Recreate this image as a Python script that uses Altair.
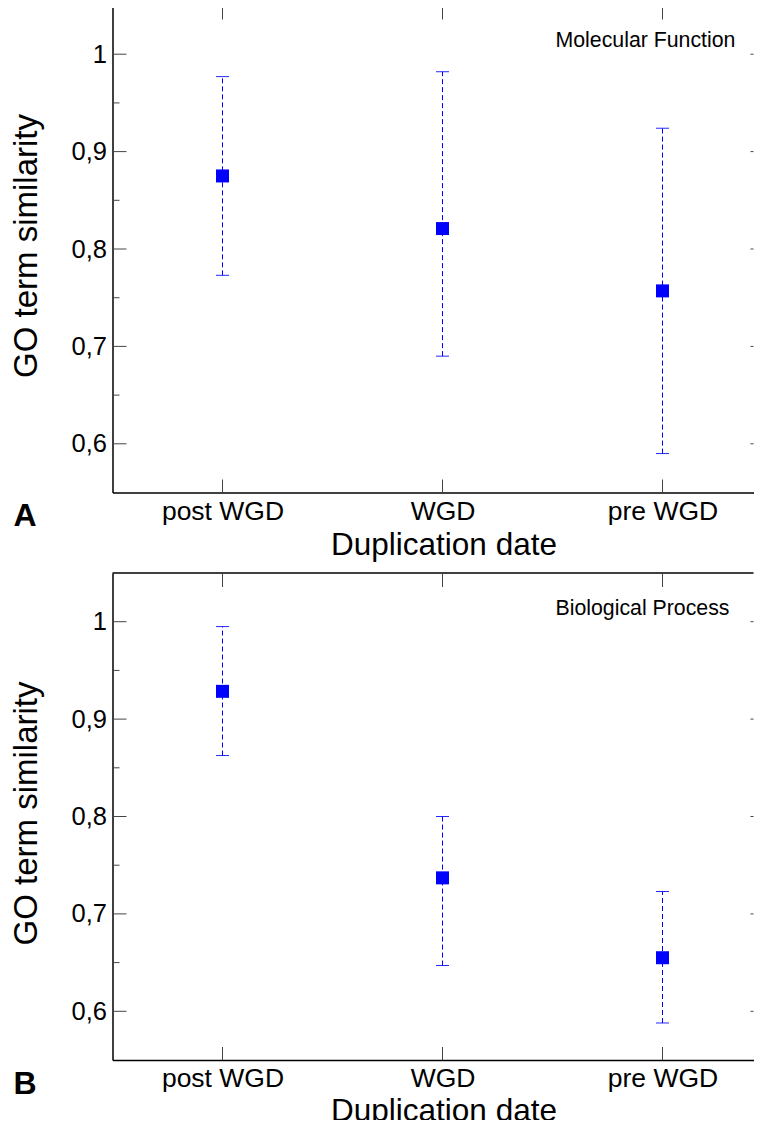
import json
import altair as alt
import pandas as pd

categories = ["post WGD", "WGD", "pre WGD"]

mf_mean = [0.875, 0.821, 0.757]
mf_lo = [0.773, 0.690, 0.590]
mf_hi = [0.977, 0.982, 0.924]

bp_mean = [0.9285, 0.737, 0.655]
bp_lo = [0.8626, 0.647, 0.588]
bp_hi = [0.995, 0.800, 0.723]

major_ticks = [0.6, 0.7, 0.8, 0.9, 1.0]
minor_ticks = [0.65, 0.75, 0.85, 0.95]

W = 641
H = 487
X_MAX = (W - 110) / 220 - 0.0
FONT = "Liberation Sans"
BLUE = "#0000ff"
TICKC = "#444444"

Y_LABEL_EXPR = "datum.value == 1 ? '1' : replace(format(datum.value, '.1f'), '.', ',')"
X_LABEL_EXPR = json.dumps(categories) + "[datum.value]"
X_IDX = list(range(len(categories)))

major_df = pd.DataFrame({"v": major_ticks})
minor_df = pd.DataFrame({"v": minor_ticks})
xtick_df = pd.DataFrame({"idx": X_IDX})


def panel(mean, lo, hi, name, letter, title_y):
    df = pd.DataFrame({"idx": X_IDX, "cat": categories, "mean": mean, "lo": lo, "hi": hi})
    xs = alt.Scale(domain=[-0.5, X_MAX], nice=False, zero=False)
    ys = alt.Scale(domain=[0.55, 1.05], nice=False, zero=False)
    base = alt.Chart(df)

    main_x_axis = alt.Axis(
        title="Duplication date", orient="bottom", values=X_IDX, grid=False,
        labelExpr=X_LABEL_EXPR, labelAngle=0, ticks=False,
        domain=True, domainColor="black", domainWidth=1.5,
        labelFont=FONT, titleFont=FONT,
        labelFontSize=26.5, labelPadding=5.5, labelColor="black",
        titleFontSize=31.5, titleFontWeight="normal", titleColor="black",
        titleX=331, titleY=title_y, titleBaseline="alphabetic",
    )
    main_y_axis = alt.Axis(
        title="GO term similarity", orient="left", values=major_ticks, grid=False,
        labelExpr=Y_LABEL_EXPR, ticks=False, domain=True, domainColor="black",
        labelFont=FONT, titleFont=FONT,
        domainWidth=1.5, labelFontSize=25.5, labelPadding=6, labelColor="black",
        titleFontSize=33, titleFontWeight="normal", titleColor="black",
        titleX=-76, titleY=240, titleAngle=270, titleBaseline="alphabetic",
    )

    rule = base.mark_rule(color=BLUE, strokeWidth=1, strokeDash=[5, 3]).encode(
        x=alt.X("idx:Q", scale=xs, axis=main_x_axis),
        y=alt.Y("lo:Q", scale=ys, axis=main_y_axis),
        y2="hi:Q",
    )
    cap_lo = base.mark_tick(color=BLUE, orient="horizontal", size=13, thickness=1, opacity=0.85).encode(
        x=alt.X("idx:Q", scale=xs, axis=None),
        y=alt.Y("lo:Q", scale=ys, axis=None),
    )
    cap_hi = base.mark_tick(color=BLUE, orient="horizontal", size=13, thickness=1, opacity=0.85).encode(
        x=alt.X("idx:Q", scale=xs, axis=None),
        y=alt.Y("hi:Q", scale=ys, axis=None),
    )
    pts = base.mark_square(color=BLUE, size=169, opacity=1, filled=True).encode(
        x=alt.X("idx:Q", scale=xs, axis=None),
        y=alt.Y("mean:Q", scale=ys, axis=None),
    )

    # frame: top border
    top_border = alt.Chart(pd.DataFrame({"k": [0]})).mark_rule(
        color="black", strokeWidth=1.5
    ).encode(x=alt.value(0), x2=alt.value(W), y=alt.value(0))

    # inward ticks
    y_major_in = alt.Chart(major_df).mark_tick(
        orient="horizontal", size=14, thickness=1, color=TICKC, opacity=1
    ).encode(y=alt.Y("v:Q", scale=ys, axis=None), x=alt.value(7))
    y_minor_in = alt.Chart(minor_df).mark_tick(
        orient="horizontal", size=7, thickness=1, color=TICKC, opacity=1
    ).encode(y=alt.Y("v:Q", scale=ys, axis=None), x=alt.value(3.5))
    y_right_in = alt.Chart(major_df).mark_tick(
        orient="horizontal", size=3, thickness=1, color=TICKC, opacity=1
    ).encode(y=alt.Y("v:Q", scale=ys, axis=None), x=alt.value(W - 1.5))
    x_top_in = alt.Chart(xtick_df).mark_tick(
        orient="vertical", size=14, thickness=1, color=TICKC, opacity=1
    ).encode(x=alt.X("idx:Q", scale=xs, axis=None), y=alt.value(7))
    x_bot_in = alt.Chart(xtick_df).mark_tick(
        orient="vertical", size=13, thickness=1, color=TICKC, opacity=1
    ).encode(x=alt.X("idx:Q", scale=xs, axis=None), y=alt.value(H - 6.5))

    name_txt = alt.Chart(pd.DataFrame({"label": [name]})).mark_text(
        font=FONT, fontSize=21.3, align="left", baseline="alphabetic", color="black"
    ).encode(x=alt.value(443), y=alt.value(41.5), text="label:N")
    letter_txt = alt.Chart(pd.DataFrame({"label": [letter]})).mark_text(
        font=FONT, fontSize=32, fontWeight="bold", align="left",
        baseline="alphabetic", color="black"
    ).encode(x=alt.value(-99), y=alt.value(H + 33.5), text="label:N")

    return alt.layer(
        rule, cap_lo, cap_hi, pts, top_border,
        y_major_in, y_minor_in, y_right_in, x_top_in, x_bot_in,
        name_txt, letter_txt,
    ).resolve_axis(x="independent", y="independent").properties(width=W, height=H)


panel_a = panel(mf_mean, mf_lo, mf_hi, "Molecular Function", "A", 62)
panel_b = panel(bp_mean, bp_lo, bp_hi, "Biological Process", "B", 60)

chart = alt.vconcat(panel_a, panel_b, spacing=10.5).properties(
    padding={"left": 2.5, "top": -3.5, "right": 0, "bottom": -7},
    background="white",
).configure_view(stroke=None, strokeWidth=0).configure_axis(
    grid=False, labelFont=FONT, titleFont=FONT
)

chart.save("out.html", embed_options={"renderer": "svg", "actions": False})
